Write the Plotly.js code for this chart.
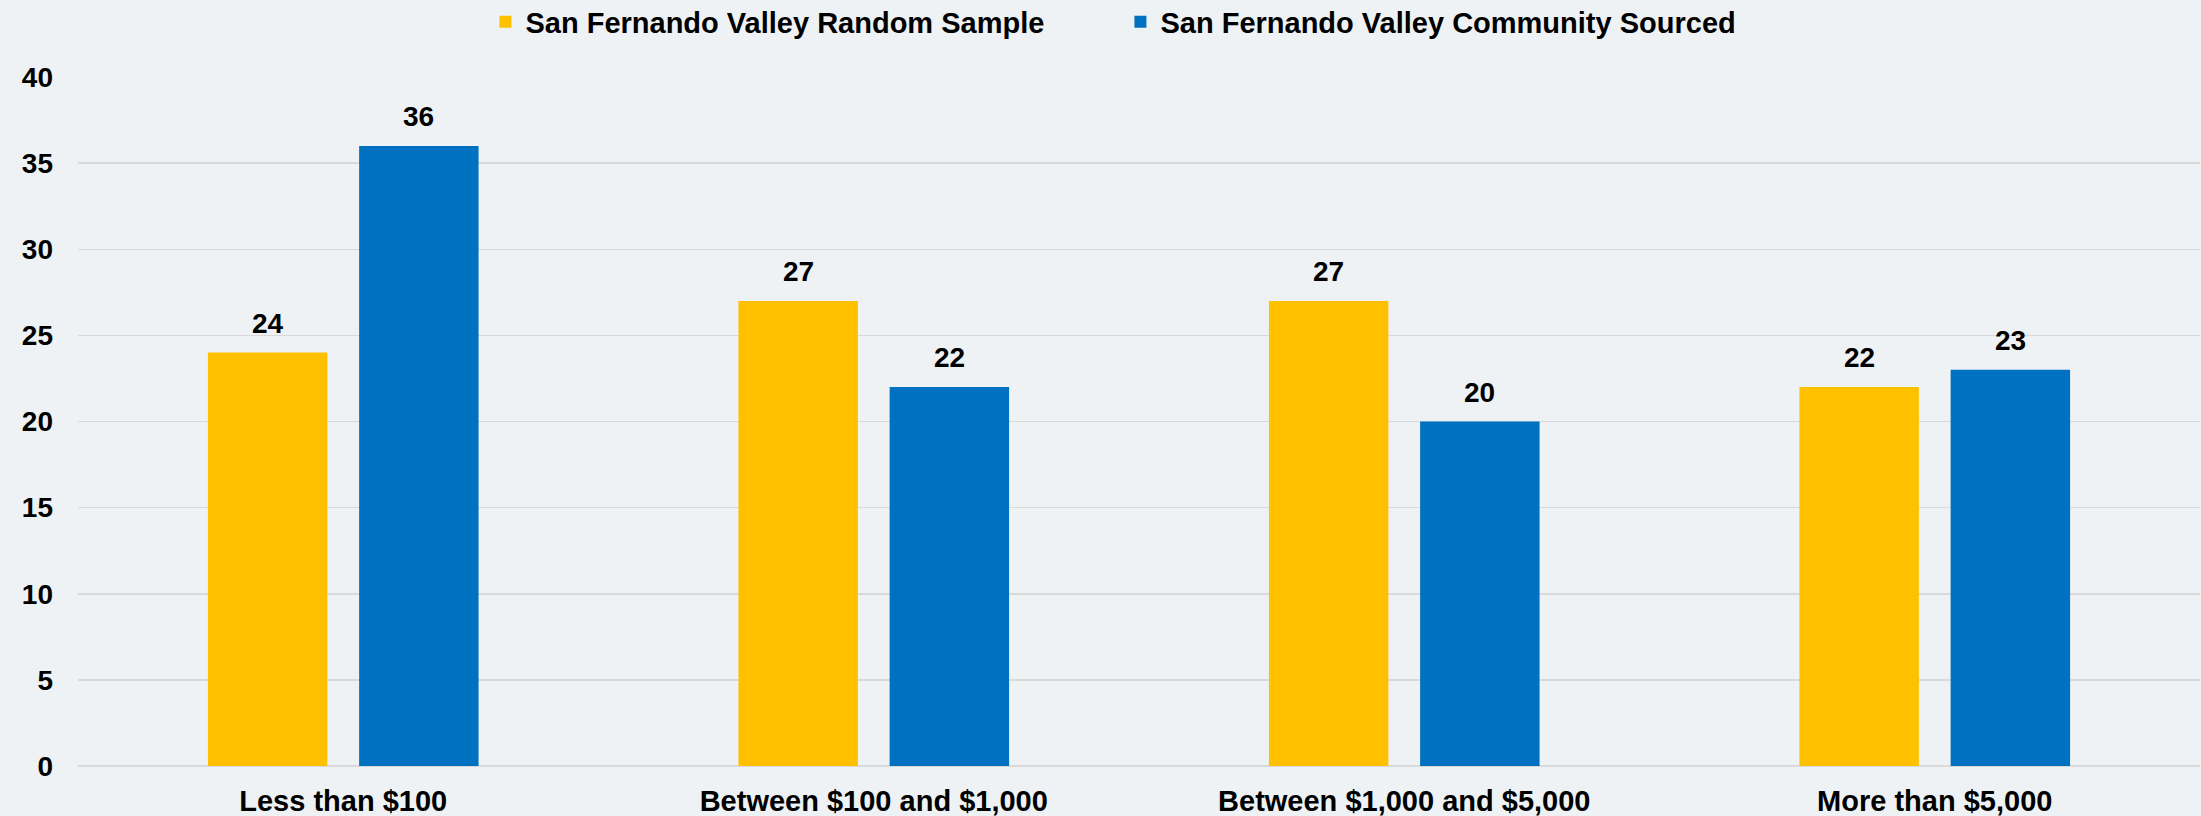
<!DOCTYPE html>
<html>
<head>
<meta charset="utf-8">
<script src="https://cdn.plot.ly/plotly-3.0.1.min.js"></script>
<style>html,body{margin:0;padding:0;background:#EEF2F4;}</style>
</head>
<body>
<div id="chart" style="width:2201px;height:816px;"></div>
<script>
const categories = ["Less than $100", "Between $100 and $1,000", "Between $1,000 and $5,000", "More than $5,000"];
const seriesNames = ["San Fernando Valley Random Sample", "San Fernando Valley Community Sourced"];
const randomSample = [24, 27, 27, 22];
const communitySourced = [36, 22, 20, 23];
const yTicks = [0, 5, 10, 15, 20, 25, 30, 35, 40];

const colors = ["#FFC000", "#0070C0"];
const FONT = "Liberation Sans, Arial, sans-serif";
const seriesValues = [randomSample, communitySourced];

const traces = seriesValues.map((vals, i) => ({
  type: "bar",
  name: seriesNames[i],
  x: categories,
  y: vals,
  marker: {color: colors[i], line: {width: 0}},
  hoverinfo: "skip"
}));

const slotHalf = 75.5;
const annotations = [];
seriesValues.forEach((vals, i) => {
  vals.forEach((v, j) => {
    annotations.push({
      x: categories[j], y: v, xref: "x", yref: "y",
      text: String(v), showarrow: false,
      xshift: (i === 0 ? -slotHalf : slotHalf), yshift: 12,
      yanchor: "bottom",
      font: {family: FONT, size: 28, color: "#000000", weight: "bold"}
    });
  });
});

const layout = {
  width: 2201, height: 816,
  paper_bgcolor: "#EEF2F4", plot_bgcolor: "#EEF2F4",
  margin: {l: 78, r: 1, t: 77, b: 50, autoexpand: false},
  barmode: "group", bargap: 0.43, bargroupgap: 0.21,
  showlegend: true,
  legend: {
    orientation: "h", x: 0.192, xanchor: "left", y: 1.08, yanchor: "middle",
    font: {family: FONT, size: 29, color: "#000000", weight: "bold"},
    entrywidth: 590, entrywidthmode: "pixels",
    bgcolor: "rgba(0,0,0,0)", itemclick: false
  },
  xaxis: {
    type: "category", range: [-0.5, 3.5],
    showgrid: false, showline: false, zeroline: false, ticks: "",
    tickfont: {family: FONT, size: 29, color: "#000000", weight: "bold"},
    ticklabelstandoff: 15, automargin: false
  },
  yaxis: {
    range: [0, 40], tickvals: yTicks, ticktext: yTicks.map(String),
    showgrid: true, gridcolor: "#D9D9D9", gridwidth: 1.5,
    zeroline: true, zerolinecolor: "#D9D9D9", zerolinewidth: 2,
    showline: false, ticks: "",
    tickfont: {family: FONT, size: 28, color: "#000000", weight: "bold"},
    ticklabelstandoff: 24, automargin: false
  },
  annotations: annotations
};

Plotly.newPlot("chart", traces, layout, {displayModeBar: false, staticPlot: true});
</script>
</body>
</html>
